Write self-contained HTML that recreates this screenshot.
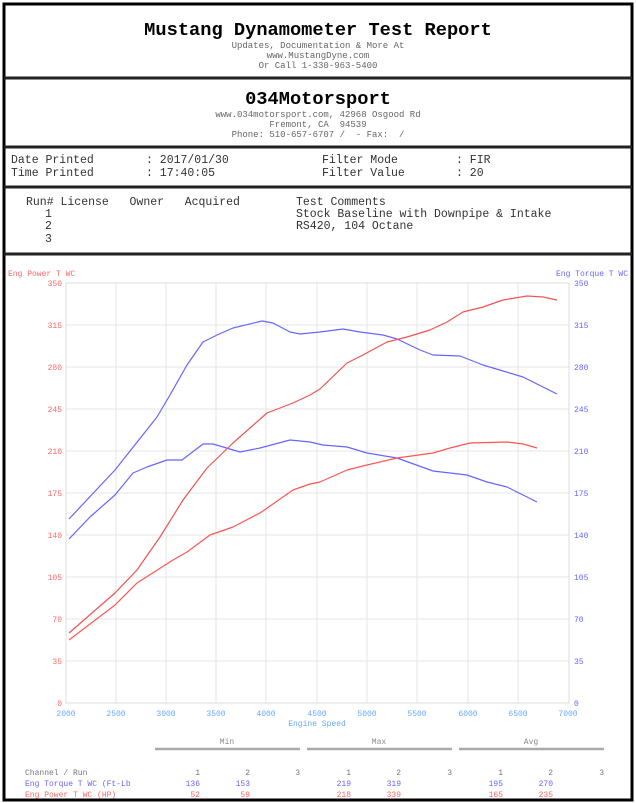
<!DOCTYPE html>
<html><head><meta charset="utf-8"><style>
body{margin:0;width:636px;height:803px;background:#fff;overflow:hidden;font-family:"Liberation Mono",monospace;}
svg{position:absolute;left:0;top:0}
svg text{white-space:pre}
</style></head><body>
<svg width="636" height="803" xmlns="http://www.w3.org/2000/svg" font-family="Liberation Mono, monospace">
<rect x="4" y="4" width="628" height="796" fill="none" stroke="#000" stroke-width="3"/>
<line x1="4" y1="78" x2="632" y2="78" stroke="#222" stroke-width="3"/>
<line x1="4" y1="147" x2="632" y2="147" stroke="#222" stroke-width="3"/>
<line x1="4" y1="187" x2="632" y2="187" stroke="#222" stroke-width="3"/>
<line x1="4" y1="254" x2="632" y2="254" stroke="#222" stroke-width="3"/>
<g text-anchor="middle" fill="#000">
<text x="318" y="35" font-size="18.7" font-weight="bold">Mustang Dynamometer Test Report</text>
<text x="318" y="48" font-size="9" fill="#666">Updates, Documentation &amp; More At</text>
<text x="318" y="58" font-size="9" fill="#666">www.MustangDyne.com</text>
<text x="318" y="68" font-size="9" fill="#666">Or Call 1-330-963-5400</text>
<text x="318" y="104" font-size="18.7" font-weight="bold">034Motorsport</text>
<text x="318" y="117" font-size="9" fill="#666">www.034motorsport.com, 42968 Osgood Rd</text>
<text x="318" y="127" font-size="9" fill="#666">Fremont, CA  94539</text>
<text x="318" y="137" font-size="9" fill="#666">Phone: 510-657-6707 /  - Fax:  /</text>
</g>
<g font-size="11.5" fill="#333">
<text x="11" y="163">Date Printed</text><text x="146" y="163">: 2017/01/30</text>
<text x="322" y="163">Filter Mode</text><text x="456" y="163">: FIR</text>
<text x="11" y="176">Time Printed</text><text x="146" y="176">: 17:40:05</text>
<text x="322" y="176">Filter Value</text><text x="456" y="176">: 20</text>
<text x="26" y="205">Run# License   Owner   Acquired</text>
<text x="296" y="205">Test Comments</text>
<text x="45" y="217">1</text><text x="296" y="217">Stock Baseline with Downpipe &amp; Intake</text>
<text x="45" y="229">2</text><text x="296" y="229">RS420, 104 Octane</text>
<text x="45" y="242">3</text>
</g>
<g stroke="#e4e4e4" stroke-width="1">
<line x1="116" y1="283" x2="116" y2="703"/><line x1="166" y1="283" x2="166" y2="703"/><line x1="216" y1="283" x2="216" y2="703"/><line x1="266" y1="283" x2="266" y2="703"/><line x1="317" y1="283" x2="317" y2="703"/><line x1="367" y1="283" x2="367" y2="703"/><line x1="417" y1="283" x2="417" y2="703"/><line x1="468" y1="283" x2="468" y2="703"/><line x1="518" y1="283" x2="518" y2="703"/>
<line x1="66" y1="325" x2="569" y2="325"/><line x1="66" y1="367" x2="569" y2="367"/><line x1="66" y1="409" x2="569" y2="409"/><line x1="66" y1="451" x2="569" y2="451"/><line x1="66" y1="493" x2="569" y2="493"/><line x1="66" y1="535" x2="569" y2="535"/><line x1="66" y1="577" x2="569" y2="577"/><line x1="66" y1="619" x2="569" y2="619"/><line x1="66" y1="661" x2="569" y2="661"/>
</g>
<rect x="66" y="283" width="503" height="420" fill="none" stroke="#ddd"/>
<g font-size="8" fill="#f66" text-anchor="end">
<text x="62" y="286">350</text><text x="62" y="328">315</text><text x="62" y="370">280</text><text x="62" y="412">245</text><text x="62" y="454">210</text><text x="62" y="496">175</text><text x="62" y="538">140</text><text x="62" y="580">105</text><text x="62" y="622">70</text><text x="62" y="664">35</text><text x="62" y="706">0</text>
</g>
<text x="8" y="276" font-size="8" fill="#f66">Eng Power T WC</text>
<g font-size="8" fill="#66f">
<text x="574" y="286">350</text><text x="574" y="328">315</text><text x="574" y="370">280</text><text x="574" y="412">245</text><text x="574" y="454">210</text><text x="574" y="496">175</text><text x="574" y="538">140</text><text x="574" y="580">105</text><text x="574" y="622">70</text><text x="574" y="664">35</text><text x="574" y="706">0</text>
</g>
<text x="628" y="276" font-size="8" fill="#66f" text-anchor="end">Eng Torque T WC</text>
<g font-size="8" fill="#6af" text-anchor="middle">
<text x="66" y="716">2000</text><text x="116" y="716">2500</text><text x="166" y="716">3000</text><text x="216" y="716">3500</text><text x="266" y="716">4000</text><text x="317" y="716">4500</text><text x="367" y="716">5000</text><text x="417" y="716">5500</text><text x="468" y="716">6000</text><text x="518" y="716">6500</text><text x="568" y="716">7000</text>
<text x="317" y="726">Engine Speed</text>
</g>
<g fill="none" stroke-width="1.2" stroke-linejoin="round">
<polyline stroke="#66f" points="69,519 115,470 157,417 170,395 187,365 203,342 217,335 233,328 262,321 273,323 290,332 300,334 320,332 343,329 360,332 383,335 397,339 420,350 433,355 460,356 483,365 503,371 523,377 543,387 557,394"/>
<polyline stroke="#66f" points="69,539 90,517 115,495 133,473 147,467 167,460 182,460 203,444 213,444 240,452 260,448 290,440 310,442 323,445 347,447 367,453 397,458 433,471 467,475 487,482 507,487 523,495 537,502"/>
<polyline stroke="#e55" points="69,633 115,593 137,570 160,537 183,500 207,468 233,443 267,413 293,403 310,395 320,389 347,363 363,355 387,342 407,337 430,330 447,322 463,312 483,307 503,300 527,296 543,297 557,300"/>
<polyline stroke="#f55" points="69,640 115,605 137,583 173,560 187,552 210,535 233,527 260,513 293,490 310,484 320,482 347,470 367,465 397,458 433,453 450,448 470,443 507,442 523,444 537,448"/>
</g>
<g stroke="#aaa" stroke-width="2.5">
<line x1="155" y1="749" x2="300" y2="749"/>
<line x1="307" y1="749" x2="452" y2="749"/>
<line x1="459" y1="749" x2="604" y2="749"/>
</g>
<g font-size="8" fill="#888" text-anchor="middle">
<text x="227" y="744">Min</text><text x="379" y="744">Max</text><text x="531" y="744">Avg</text>
</g>
<g font-size="8" text-anchor="end">
<text x="25" y="775" text-anchor="start" fill="#777">Channel / Run</text>
<text x="200" y="775" fill="#777">1</text><text x="250" y="775" fill="#777">2</text><text x="300" y="775" fill="#777">3</text>
<text x="351" y="775" fill="#777">1</text><text x="401" y="775" fill="#777">2</text><text x="452" y="775" fill="#777">3</text>
<text x="503" y="775" fill="#777">1</text><text x="553" y="775" fill="#777">2</text><text x="604" y="775" fill="#777">3</text>
<text x="25" y="786" text-anchor="start" fill="#66f">Eng Torque T WC (Ft-Lb</text>
<text x="200" y="786" fill="#66f">136</text><text x="250" y="786" fill="#66f">153</text>
<text x="351" y="786" fill="#66f">219</text><text x="401" y="786" fill="#66f">319</text>
<text x="503" y="786" fill="#66f">195</text><text x="553" y="786" fill="#66f">270</text>
<text x="25" y="797" text-anchor="start" fill="#f66">Eng Power T WC (HP)</text>
<text x="200" y="797" fill="#f66">52</text><text x="250" y="797" fill="#f66">59</text>
<text x="351" y="797" fill="#f66">218</text><text x="401" y="797" fill="#f66">339</text>
<text x="503" y="797" fill="#f66">165</text><text x="553" y="797" fill="#f66">235</text>
</g>
</svg>
</body></html>
